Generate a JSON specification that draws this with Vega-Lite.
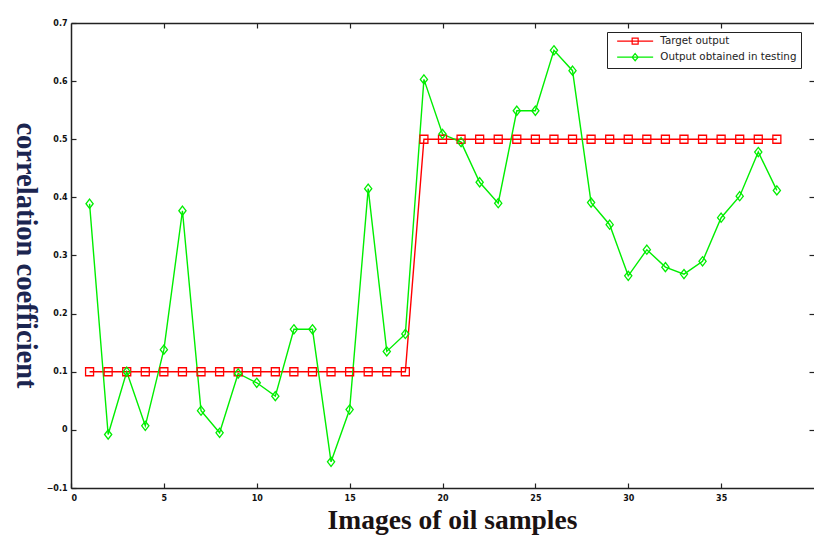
{
  "$schema": "https://vega.github.io/schema/vega-lite/v6.json",
  "width": 743,
  "height": 465,
  "autosize": "none",
  "padding": {"left": 71, "top": 23, "right": 0, "bottom": 48},
  "background": "white",
  "config": {
    "view": {"stroke": null},
    "axis": {"grid": false, "domainColor": "#222", "tickColor": "#222", "labelFont": "DejaVu Sans", "labelFontWeight": "bold", "labelFontSize": 8, "labelColor": "#111", "tickSize": -5, "domainWidth": 1.5, "tickWidth": 1.2}
  },
  "data": {"values": [
    {"x":1,"s":"Target output","y":0.1},{"x":2,"s":"Target output","y":0.1},{"x":3,"s":"Target output","y":0.1},{"x":4,"s":"Target output","y":0.1},{"x":5,"s":"Target output","y":0.1},{"x":6,"s":"Target output","y":0.1},{"x":7,"s":"Target output","y":0.1},{"x":8,"s":"Target output","y":0.1},{"x":9,"s":"Target output","y":0.1},{"x":10,"s":"Target output","y":0.1},{"x":11,"s":"Target output","y":0.1},{"x":12,"s":"Target output","y":0.1},{"x":13,"s":"Target output","y":0.1},{"x":14,"s":"Target output","y":0.1},{"x":15,"s":"Target output","y":0.1},{"x":16,"s":"Target output","y":0.1},{"x":17,"s":"Target output","y":0.1},{"x":18,"s":"Target output","y":0.1},
    {"x":19,"s":"Target output","y":0.5},{"x":20,"s":"Target output","y":0.5},{"x":21,"s":"Target output","y":0.5},{"x":22,"s":"Target output","y":0.5},{"x":23,"s":"Target output","y":0.5},{"x":24,"s":"Target output","y":0.5},{"x":25,"s":"Target output","y":0.5},{"x":26,"s":"Target output","y":0.5},{"x":27,"s":"Target output","y":0.5},{"x":28,"s":"Target output","y":0.5},{"x":29,"s":"Target output","y":0.5},{"x":30,"s":"Target output","y":0.5},{"x":31,"s":"Target output","y":0.5},{"x":32,"s":"Target output","y":0.5},{"x":33,"s":"Target output","y":0.5},{"x":34,"s":"Target output","y":0.5},{"x":35,"s":"Target output","y":0.5},{"x":36,"s":"Target output","y":0.5},{"x":37,"s":"Target output","y":0.5},{"x":38,"s":"Target output","y":0.5},
    {"x":1,"s":"Output obtained in testing","y":0.389},{"x":2,"s":"Output obtained in testing","y":-0.008},{"x":3,"s":"Output obtained in testing","y":0.1},{"x":4,"s":"Output obtained in testing","y":0.007},{"x":5,"s":"Output obtained in testing","y":0.138},{"x":6,"s":"Output obtained in testing","y":0.377},{"x":7,"s":"Output obtained in testing","y":0.033},{"x":8,"s":"Output obtained in testing","y":-0.005},{"x":9,"s":"Output obtained in testing","y":0.097},{"x":10,"s":"Output obtained in testing","y":0.081},{"x":11,"s":"Output obtained in testing","y":0.058},{"x":12,"s":"Output obtained in testing","y":0.173},{"x":13,"s":"Output obtained in testing","y":0.173},{"x":14,"s":"Output obtained in testing","y":-0.055},{"x":15,"s":"Output obtained in testing","y":0.035},{"x":16,"s":"Output obtained in testing","y":0.415},{"x":17,"s":"Output obtained in testing","y":0.135},{"x":18,"s":"Output obtained in testing","y":0.165},{"x":19,"s":"Output obtained in testing","y":0.603},{"x":20,"s":"Output obtained in testing","y":0.509},{"x":21,"s":"Output obtained in testing","y":0.495},{"x":22,"s":"Output obtained in testing","y":0.426},{"x":23,"s":"Output obtained in testing","y":0.39},{"x":24,"s":"Output obtained in testing","y":0.549},{"x":25,"s":"Output obtained in testing","y":0.549},{"x":26,"s":"Output obtained in testing","y":0.653},{"x":27,"s":"Output obtained in testing","y":0.618},{"x":28,"s":"Output obtained in testing","y":0.391},{"x":29,"s":"Output obtained in testing","y":0.353},{"x":30,"s":"Output obtained in testing","y":0.265},{"x":31,"s":"Output obtained in testing","y":0.31},{"x":32,"s":"Output obtained in testing","y":0.28},{"x":33,"s":"Output obtained in testing","y":0.268},{"x":34,"s":"Output obtained in testing","y":0.29},{"x":35,"s":"Output obtained in testing","y":0.365},{"x":36,"s":"Output obtained in testing","y":0.402},{"x":37,"s":"Output obtained in testing","y":0.478},{"x":38,"s":"Output obtained in testing","y":0.412}
  ]},
  "resolve": {"axis": {"x": "independent", "y": "independent"}},
  "layer": [
    {
      "mark": {"type": "line", "strokeWidth": 1.4},
      "encoding": {
        "x": {"field": "x", "type": "quantitative", "scale": {"domain": [0, 40], "nice": false, "zero": false},
          "axis": {"orient": "bottom", "values": [0,5,10,15,20,25,30,35], "labelPadding": 11, "title": "Images of oil samples", "titleFont": "Liberation Serif", "titleFontSize": 27.5, "titleFontWeight": "bold", "titleColor": "#1a1212", "titleX": 381, "titleY": 40, "titleBaseline": "alphabetic", "titleAlign": "center"}},
        "y": {"field": "y", "type": "quantitative", "scale": {"domain": [-0.1, 0.7], "nice": false, "zero": false},
          "axis": {"orient": "left", "values": [-0.1,0,0.1,0.2,0.3,0.4,0.5,0.6,0.7], "format": ".1~f", "labelPadding": 9, "title": "correlation coefficient", "titleFont": "Liberation Serif", "titleFontSize": 28.5, "titleFontWeight": "bold", "titleColor": "#1b2550", "titleAngle": 90, "titleX": -46, "titleY": 232, "titleBaseline": "middle", "titleAlign": "center"}},
        "color": {"field": "s", "type": "nominal", "scale": {"domain": ["Target output", "Output obtained in testing"], "range": ["#ff0000", "#00ee00"]},
          "legend": {"orient": "none", "legendX": 536, "legendY": 9, "title": null, "padding": 4, "strokeColor": "#222", "symbolSize": 36, "symbolStrokeWidth": 1.2, "symbolOffset": 19, "labelOffset": 20, "labelFont": "DejaVu Sans", "labelFontSize": 10.3, "labelColor": "#222", "rowPadding": 4, "labelLimit": 300,
            "encode": {"symbols": {"update": {"shape": {"signal": "datum.value === 'Target output' ? 'M-6,0H6M-1,-1H1V1H-1Z' : 'M-6,0H6M0,-1.2L1,0L0,1.2L-1,0Z'"}, "fill": {"value": "transparent"}}}}}},
        "detail": {"field": "s"}
      }
    },
    {
      "transform": [{"filter": "datum.s === 'Target output'"}],
      "mark": {"type": "point", "filled": false, "strokeWidth": 1.3, "size": 64, "opacity": 1, "shape": "M-1,-1H1V1H-1Z"},
      "encoding": {
        "x": {"field": "x", "type": "quantitative", "axis": {"orient": "top", "values": [5,10,15,20,25,30,35], "labels": false, "title": null}},
        "y": {"field": "y", "type": "quantitative", "axis": {"orient": "right", "values": [0,0.1,0.2,0.3,0.4,0.5,0.6], "labels": false, "title": null, "domain": false}},
        "color": {"field": "s", "type": "nominal", "legend": null}
      }
    },
    {
      "transform": [{"filter": "datum.s !== 'Target output'"}],
      "mark": {"type": "point", "filled": false, "strokeWidth": 1.3, "size": 64, "opacity": 1, "shape": "M0,-1.15L0.9,0L0,1.15L-0.9,0Z"},
      "encoding": {
        "x": {"field": "x", "type": "quantitative", "axis": null},
        "y": {"field": "y", "type": "quantitative", "axis": null},
        "color": {"field": "s", "type": "nominal", "legend": null}
      }
    }
  ]
}
